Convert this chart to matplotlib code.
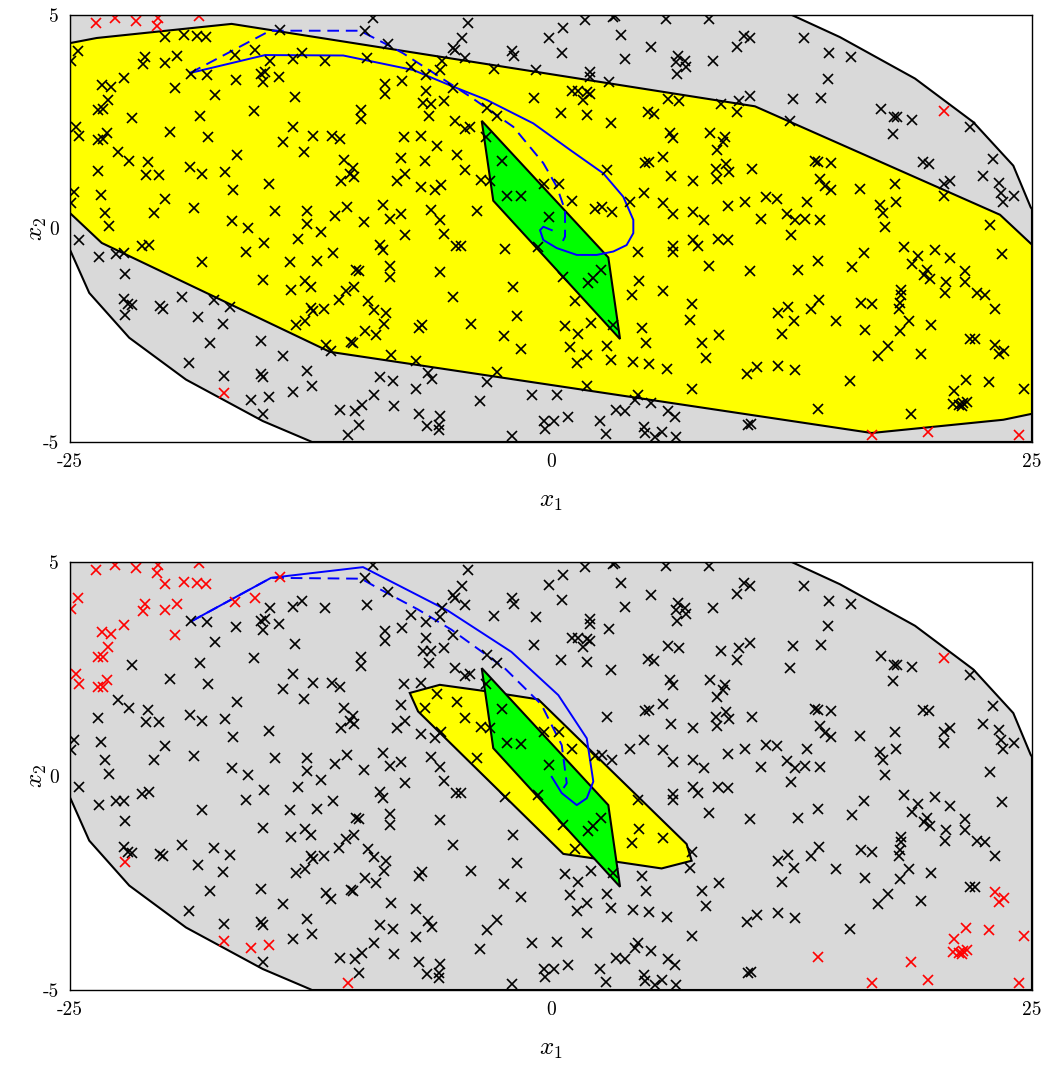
import matplotlib
matplotlib.use('Agg')
import matplotlib.pyplot as plt
from matplotlib.patches import Polygon
import numpy as np

plt.rcParams['mathtext.fontset'] = 'cm'

# sampled states (x1, x2), black in both panels
black_pts = [
    (-18.71, 3.61), (-17.88, 3.60), (-16.37, 3.47), (-14.60, 3.93), (-15.07, 3.61), (-14.85, 3.67),
    (-14.98, 3.42), (-14.12, 3.55), (-13.42, 3.96), (-12.94, 4.10), (-17.44, 3.12), (-13.32, 3.08),
    (-15.42, 2.76), (-21.79, 2.59), (-18.24, 2.63), (-19.80, 2.27), (-17.81, 2.15), (-13.41, 2.38),
    (-13.94, 2.03), (-12.83, 1.80), (-22.52, 1.78), (-21.93, 1.58), (-20.93, 1.55), (-21.05, 1.25),
    (-20.36, 1.25), (-23.56, 1.35), (-18.74, 1.43), (-18.12, 1.28), (-16.92, 1.33), (-16.33, 1.73),
    (-14.67, 1.05), (-16.54, 0.91), (-24.77, 0.85), (-24.95, 0.60), (-23.39, 0.79), (-20.06, 0.69),
    (-23.16, 0.37), (-20.65, 0.37), (-18.54, 0.47), (-14.34, 0.41), (-12.70, 0.41), (-12.70, 0.11),
    (-16.59, 0.18), (-22.99, 0.05), (-15.76, 0.02),
    (-9.25, 4.92), (-9.65, 4.63), (-4.31, 4.82), (-4.62, 4.45), (-5.07, 4.22), (-5.00, 4.17),
    (-4.48, 3.99), (-0.12, 4.47), (-8.47, 4.31), (-11.76, 3.93), (-9.55, 3.99), (-7.26, 3.77),
    (-6.48, 3.60), (-5.75, 3.71), (-5.65, 3.93), (-7.73, 3.46), (-8.64, 3.38), (-8.64, 3.15),
    (-6.51, 3.22), (-5.09, 3.29), (-6.65, 2.93), (-6.25, 2.91), (-5.56, 2.98), (-6.34, 2.64),
    (-9.86, 2.77), (-9.89, 2.56), (-2.98, 3.73), (-2.02, 4.16), (-1.94, 4.03), (-0.76, 3.71),
    (-0.90, 3.05), (-3.31, 2.83), (-2.79, 2.63), (-5.00, 2.52), (-4.45, 2.33), (-4.19, 2.38),
    (-12.37, 2.17), (-11.36, 2.17), (-10.95, 2.09), (-7.64, 2.15), (-6.74, 2.17), (-10.76, 1.60),
    (-10.29, 1.41), (-10.46, 1.28), (-10.93, 1.11), (-10.24, 1.21), (-7.78, 1.65), (-7.57, 1.28),
    (-8.02, 1.12), (-6.74, 0.97), (-6.01, 0.89), (-5.70, 1.02), (-5.91, 1.92), (-6.56, 1.59),
    (-4.87, 1.73), (-4.45, 1.36), (-3.62, 1.14), (-3.18, 1.11), (-3.36, 2.15), (-2.53, 1.57),
    (-2.30, 0.77), (-1.54, 0.75), (-0.36, 1.03), (-0.12, 0.26), (-3.83, 0.42), (-10.59, 0.50),
    (-11.21, 0.29), (-9.72, 0.15), (-8.73, 0.54), (-8.38, 0.23), (-7.81, 0.33), (-6.22, 0.44),
    (-5.78, 0.20),
    (1.77, 4.88), (3.24, 4.95), (3.33, 4.97), (5.96, 4.90), (8.20, 4.90), (0.61, 4.70),
    (3.62, 4.52), (0.56, 4.12), (5.18, 4.24), (3.87, 3.96), (6.62, 4.04), (6.50, 3.89),
    (6.97, 3.93), (7.02, 3.79), (6.54, 3.61), (8.41, 3.93), (10.05, 4.51), (10.35, 4.45),
    (9.69, 4.25), (2.03, 3.67), (2.03, 3.55), (3.00, 3.43), (1.08, 3.22), (1.42, 3.22),
    (1.86, 3.19), (2.03, 3.15), (1.68, 3.01), (0.50, 2.70), (1.86, 2.66), (3.10, 2.48),
    (6.10, 3.03), (6.67, 2.98), (5.06, 2.73), (5.37, 2.69), (8.84, 2.91), (9.76, 2.98),
    (9.66, 2.72), (10.35, 3.11), (12.43, 2.52), (12.60, 3.03), (6.19, 2.24), (6.36, 2.12),
    (8.27, 2.24), (9.05, 2.13), (8.93, 2.02), (8.65, 1.84), (5.81, 1.68), (4.89, 1.53),
    (5.11, 1.55), (2.90, 1.37), (6.22, 1.22), (7.40, 1.12), (8.56, 1.39), (8.62, 1.16),
    (9.08, 1.50), (9.27, 1.32), (10.44, 1.39), (4.84, 0.83), (4.11, 0.62), (5.84, 0.60),
    (6.36, 0.33), (7.37, 0.38), (7.97, 0.19), (9.22, 0.52), (10.09, 0.63), (11.16, 0.73),
    (11.77, 0.69), (12.29, 0.34), (10.94, 0.21), (2.64, 0.50), (3.16, 0.38), (2.29, 0.46),
    (1.08, 0.64), (0.44, 1.03),
    (13.17, 4.45), (14.47, 4.10), (15.61, 4.02), (14.38, 3.50), (14.06, 3.05), (17.16, 2.80),
    (17.82, 2.60), (17.99, 2.60), (18.77, 2.55), (17.76, 2.21), (21.77, 2.37), (22.96, 1.63),
    (22.46, 1.22), (23.31, 1.07), (23.40, 0.83), (23.48, 0.62), (24.06, 0.77), (13.74, 1.57),
    (13.90, 1.55), (14.56, 1.53), (14.00, 1.16), (14.26, 1.00), (14.56, 0.91), (16.08, 0.93),
    (17.87, 1.03), (17.95, 0.63), (17.09, 0.55), (17.24, 0.37), (17.38, 0.03), (19.34, 1.55),
    (19.64, 1.51), (20.42, 1.03), (20.76, 1.12), (20.45, 0.76), (13.31, 0.62), (12.67, 0.19),
    (13.22, 0.23), (14.00, 0.20), (22.84, 0.09),
    (-24.55, -0.26), (-23.47, -0.68), (-22.61, -0.59), (-22.18, -0.58), (-21.26, -0.42), (-20.91, -0.38),
    (-18.14, -0.79), (-15.85, -0.55), (-14.90, -0.33), (-13.13, -0.25), (-22.12, -1.06), (-14.98, -1.21),
    (-13.56, -0.79), (-13.51, -1.43), (-12.76, -1.24), (-22.21, -1.65), (-22.00, -1.78), (-21.78, -1.80),
    (-20.30, -1.82), (-20.18, -1.88), (-19.18, -1.61), (-18.34, -2.07), (-17.50, -1.68), (-16.68, -1.85),
    (-17.03, -2.24), (-17.72, -2.68), (-18.81, -3.15), (-16.98, -3.46), (-15.07, -2.64), (-15.07, -3.42),
    (-14.98, -3.47), (-14.98, -4.34), (-13.94, -2.99), (-13.25, -2.27), (-12.76, -2.17), (-12.70, -3.33),
    (-13.42, -3.82),
    (-11.97, -0.09), (-7.60, -0.16), (-5.56, -0.12), (-8.90, -0.38), (-8.73, -0.51), (-4.92, -0.40),
    (-4.66, -0.40), (-11.33, -0.58), (-12.14, -0.76), (-10.12, -0.97), (-10.00, -1.00), (-8.35, -0.89),
    (-8.35, -1.14), (-5.79, -1.03), (-12.49, -1.37), (-10.24, -1.37), (-10.67, -1.47), (-11.02, -1.68),
    (-9.51, -1.71), (-9.20, -1.90), (-8.56, -1.98), (-8.68, -2.23), (-5.08, -1.61), (-12.49, -1.86),
    (-12.37, -1.94), (-11.80, -1.88), (-9.68, -2.39), (-9.08, -2.50), (-10.41, -2.66), (-10.30, -2.68),
    (-11.68, -2.74), (-11.45, -2.87), (-6.86, -2.33), (-6.69, -2.25), (-4.17, -2.23), (-8.33, -2.97),
    (-7.00, -3.11), (-6.39, -3.38), (-6.18, -3.52), (-12.42, -3.69), (-8.90, -3.47), (-8.21, -3.57),
    (-9.20, -3.91), (-9.82, -4.14), (-10.20, -4.28), (-10.98, -4.26), (-8.16, -4.16), (-7.03, -3.77),
    (-6.86, -4.34), (-6.43, -4.63), (-5.78, -4.39), (-5.82, -4.61), (-5.82, -4.72), (-10.00, -4.61),
    (-3.70, -4.04), (-3.31, -3.59), (-2.79, -3.36), (-2.44, -2.52), (-1.54, -2.82), (-1.75, -2.04),
    (-1.97, -1.38), (-2.40, -0.48), (-0.67, -0.44), (-0.98, -3.90), (-2.02, -4.87), (-0.36, -4.51),
    (-0.29, -4.70),
    (4.54, -0.56), (6.36, -0.41), (6.36, -0.56), (7.40, -0.26), (7.66, -0.40), (8.67, -0.25),
    (9.22, -0.28), (12.46, -0.15), (8.22, -0.87), (10.35, -1.00), (0.64, -1.14), (1.94, -1.28),
    (2.17, -1.16), (2.58, -0.98), (1.25, -1.71), (4.58, -1.24), (4.23, -1.57), (5.84, -1.46),
    (7.32, -1.78), (7.23, -2.15), (3.24, -2.27), (4.72, -2.33), (4.94, -2.68), (2.06, -2.21),
    (0.73, -2.29), (1.39, -2.47), (0.99, -2.77), (2.93, -2.76), (1.86, -2.97), (1.37, -3.16),
    (3.10, -3.08), (4.28, -3.12), (5.11, -3.18), (6.02, -3.29), (7.84, -2.69), (8.75, -2.50),
    (8.06, -3.03), (7.32, -3.75), (1.89, -3.68), (0.33, -3.89), (4.51, -3.91), (4.37, -4.02),
    (5.20, -4.08), (3.36, -4.25), (3.85, -4.28), (6.10, -4.28), (6.45, -4.42), (2.55, -4.51),
    (2.84, -4.82), (4.85, -4.64), (4.89, -4.78), (5.41, -4.88), (5.76, -4.76), (6.50, -4.88),
    (0.87, -4.41), (0.16, -4.51), (10.26, -4.61), (10.38, -4.59), (10.18, -3.42), (10.70, -3.24),
    (11.82, -3.21), (11.82, -1.99), (12.31, -1.84), (11.99, -2.48),
    (12.84, -0.97), (13.88, -0.76), (16.26, -0.58), (15.62, -0.90), (18.34, -0.44), (19.08, -0.65),
    (18.77, -0.83), (19.95, -0.50), (20.73, -0.69), (23.45, -0.60), (19.55, -0.97), (19.38, -1.08),
    (19.69, -1.18), (20.54, -1.26), (20.47, -1.51), (21.54, -1.00), (21.54, -1.26), (22.15, -1.51),
    (22.55, -1.55), (23.10, -1.88), (18.21, -1.43), (18.21, -1.55), (18.16, -1.74), (18.08, -1.88),
    (18.60, -2.17), (18.16, -2.41), (19.77, -2.27), (13.95, -1.67), (13.52, -1.88), (16.13, -1.74),
    (16.69, -1.78), (14.83, -2.17), (16.34, -2.38), (12.62, -2.16), (17.50, -2.76), (16.98, -2.98),
    (19.24, -2.93), (21.80, -2.60), (22.03, -2.59), (12.70, -3.32), (15.53, -3.58),
]

# red in both panels
red_both_pts = [
    (-23.65, 4.82), (-22.64, 4.92), (-21.57, 4.86), (-20.42, 4.92), (-20.49, 4.75), (-18.31, 4.98),
    (-16.98, -3.85), (20.45, 2.76), (16.69, -4.84), (19.60, -4.77), (24.31, -4.84),
]

# red only in the lower panel
red_lower_pts = [
    (-20.04, 4.49), (-19.06, 4.53), (-18.41, 4.51), (-17.93, 4.49), (-24.60, 4.16), (-24.95, 3.91),
    (-21.12, 4.02), (-21.22, 3.86), (-20.06, 3.88), (-19.42, 4.03), (-16.42, 4.06), (-15.36, 4.17),
    (-14.08, 4.65), (-22.19, 3.52), (-23.35, 3.36), (-22.85, 3.32), (-19.52, 3.29), (-23.02, 3.01),
    (-23.54, 2.78), (-23.30, 2.79), (-24.69, 2.38), (-24.55, 2.16), (-23.56, 2.07), (-23.30, 2.09),
    (-23.08, 2.24), (-22.14, -2.02), (-15.59, -4.02), (-14.67, -3.94), (-10.55, -4.84),
    (23.10, -2.72), (23.31, -2.94), (23.57, -2.86), (21.58, -3.55), (22.76, -3.60), (20.94, -3.81),
    (24.57, -3.75), (20.90, -4.12), (21.20, -4.14), (21.40, -4.08), (21.63, -4.06), (21.37, -4.16),
    (13.88, -4.22), (18.73, -4.35),
]

# sets (polygon vertices)
gray_set = [(-25, 5), (12.51, 5), (15.02, 4.48), (18.92, 3.51), (21.95, 2.49), (24.03, 1.47),
            (24.93, 0.50), (25, 0.45), (25, -5), (-12.42, -5), (-14.98, -4.51), (-18.97, -3.54),
            (-21.92, -2.56), (-24.0, -1.51), (-25, -0.5)]
yellow_top = [(-25, 4.34), (-23.61, 4.46), (-16.60, 4.79), (10.60, 2.86), (23.34, 0.32), (25, -0.38),
              (25, -4.34), (23.51, -4.48), (16.67, -4.79), (-11.49, -2.89), (-23.35, -0.34), (-25, 0.36)]
yellow_bottom = [(-7.34, 1.94), (-5.78, 2.13), (-3.53, 1.99), (-0.66, 1.79), (7.05, -1.59), (7.31, -1.98),
                 (5.75, -2.16), (0.64, -1.82), (-6.91, 1.51)]
green_set = [(-3.60, 2.52), (2.98, -0.68), (3.59, -2.59), (-3.00, 0.65)]

# trajectories
traj_top_solid = [(-18.76, 3.64), (-14.86, 4.06), (-10.80, 4.05), (-7.16, 3.71), (-5.08, 3.32), (-3.34, 3.01),
                  (-0.92, 2.46), (0.99, 1.84), (2.72, 1.29), (3.76, 0.74), (4.28, 0.20), (4.28, -0.11),
                  (3.93, -0.39), (3.24, -0.54), (2.38, -0.62), (1.34, -0.62), (0.30, -0.46), (-0.40, -0.27),
                  (-0.57, -0.04), (-0.40, 0.04), (0.04, -0.04)]
traj_top_dashed = [(-18.76, 3.64), (-14.60, 4.63), (-9.93, 4.63), (-8.37, 4.27), (-7.68, 4.10), (-4.21, 3.09),
                   (-1.96, 2.38), (-0.40, 1.53), (0.30, 0.98), (0.73, 0.43), (0.73, -0.19), (0.47, -0.43)]
traj_bot_solid = [(-18.71, 3.61), (-14.55, 4.63), (-9.77, 4.88), (-5.35, 3.86), (-2.06, 2.90), (0.38, 1.89),
                  (1.86, 0.88), (2.20, -0.13), (1.86, -0.52), (1.34, -0.68), (0.56, -0.40), (0.04, -0.02)]
traj_bot_dashed = [(-18.71, 3.61), (-14.55, 4.63), (-9.86, 4.61), (-9.0, 4.39), (-6.91, 3.89), (-5.18, 3.42),
                   (-2.41, 2.52), (-0.50, 1.67), (0.56, 0.72), (0.82, -0.17), (0.47, -0.40)]

x_ticks = [-25, 0, 25]
x_ticklabels = ['-25', '0', '25']
y_ticks = [-5, 0, 5]
y_ticklabels = ['-5', '0', '5']

fig = plt.figure(figsize=(10.48, 10.66), dpi=100)
ax_top = fig.add_axes([0.0668, 0.5854, 0.9179, 0.4006])
ax_bot = fig.add_axes([0.0668, 0.0713, 0.9179, 0.4015])

panels = [
    (ax_top, yellow_top, traj_top_solid, traj_top_dashed, black_pts + red_lower_pts, red_both_pts),
    (ax_bot, yellow_bottom, traj_bot_solid, traj_bot_dashed, black_pts, red_both_pts + red_lower_pts),
]

for ax, yellow, solid, dashed, blk, red in panels:
    ax.add_patch(Polygon(gray_set, closed=True, facecolor='#d9d9d9', edgecolor='black', lw=1.5, zorder=1))
    ax.add_patch(Polygon(yellow, closed=True, facecolor='#ffff00', edgecolor='black', lw=1.5, zorder=2))
    ax.add_patch(Polygon(green_set, closed=True, facecolor='#00ff00', edgecolor='black', lw=1.5, zorder=3))

    s = np.array(solid)
    d = np.array(dashed)
    ax.plot(s[:, 0], s[:, 1], color='#0000ff', lw=1.4, zorder=4)
    ax.plot(d[:, 0], d[:, 1], color='#0000ff', lw=1.4, ls=(0, (6, 3.5)), zorder=4)

    b = np.array(blk)
    r = np.array(red)
    ax.plot(b[:, 0], b[:, 1], 'x', color='black', ms=7.5, mew=1.2, zorder=5)
    ax.plot(r[:, 0], r[:, 1], 'x', color='red', ms=7.5, mew=1.2, zorder=5)

    ax.set_xlim(-25, 25)
    ax.set_ylim(-5, 5)
    ax.set_xticks(x_ticks)
    ax.set_xticklabels(x_ticklabels, fontfamily='cmr10', fontsize=14)
    ax.set_yticks(y_ticks)
    ax.set_yticklabels(y_ticklabels, fontfamily='cmr10', fontsize=14)
    ax.tick_params(direction='in', length=0, pad=8)
    ax.set_xlabel('$x_1$', fontsize=18)
    ax.set_ylabel('$x_2$', fontsize=18)
    ax.xaxis.set_label_coords(0.5, -0.11)
    ax.yaxis.set_label_coords(-0.022, 0.5)
    for sp in ax.spines.values():
        sp.set_linewidth(1.0)
        sp.set_zorder(6)

plt.savefig('out.png', dpi=100)
